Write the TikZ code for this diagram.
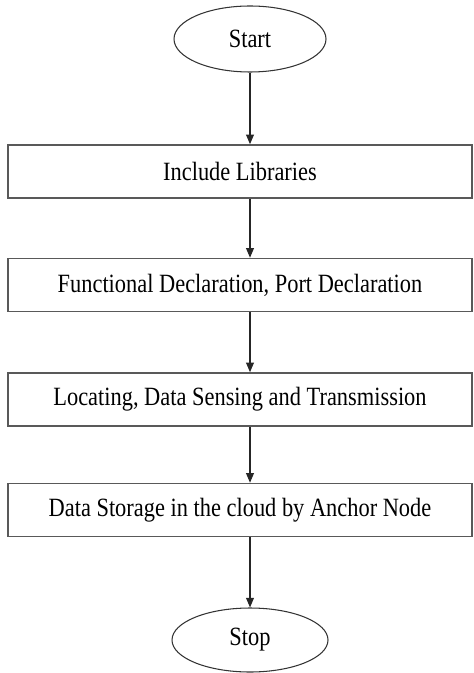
\documentclass[tikz,border=0pt]{standalone}
\usepackage{fontspec}
\setmainfont{Liberation Serif}[FakeStretch=0.85]
\usetikzlibrary{shapes.geometric,arrows.meta}

\tikzset{
  terminal/.style={draw=black!80,ellipse,line width=0.6pt,minimum width=3.04cm,minimum height=1.32cm,inner sep=0pt},
  stepbox/.style={draw=black!65,line width=0.9pt,minimum width=9.28cm,minimum height=1.06cm,inner sep=0pt},
  flow/.style={draw=black!85,line width=0.6pt,-{Triangle[width=4.5pt,length=5.5pt]}}
}

\begin{document}
\begin{tikzpicture}[font=\fontsize{15}{18}\selectfont]
			\useasboundingbox (0,0) rectangle (9.46,-13.46);

			% terminals
			\node[terminal] (start) at (5.0,-0.78) {Start};
			\node[terminal,minimum width=3.12cm,minimum height=1.28cm] (stop) at (5.0,-12.8) {Stop};

			% steps
			\node[stepbox] (libs) at (4.8,-3.43) {Include Libraries};
			\node[stepbox] (decl) at (4.8,-5.70) {Functional Declaration, Port Declaration};
			\node[stepbox] (sense) at (4.8,-7.99) {Locating, Data Sensing and Transmission};
			\node[stepbox] (store) at (4.8,-10.2) {Data Storage in the cloud by Anchor Node};

			% arrows
			\draw[flow] (start.south) -- (start.south |- libs.north);
			\draw[flow] (start.south |- libs.south) -- (start.south |- decl.north);
			\draw[flow] (start.south |- decl.south) -- (start.south |- sense.north);
			\draw[flow] (start.south |- sense.south) -- (start.south |- store.north);
			\draw[flow] (start.south |- store.south) -- (stop.north);
		\end{tikzpicture}
\end{document}
